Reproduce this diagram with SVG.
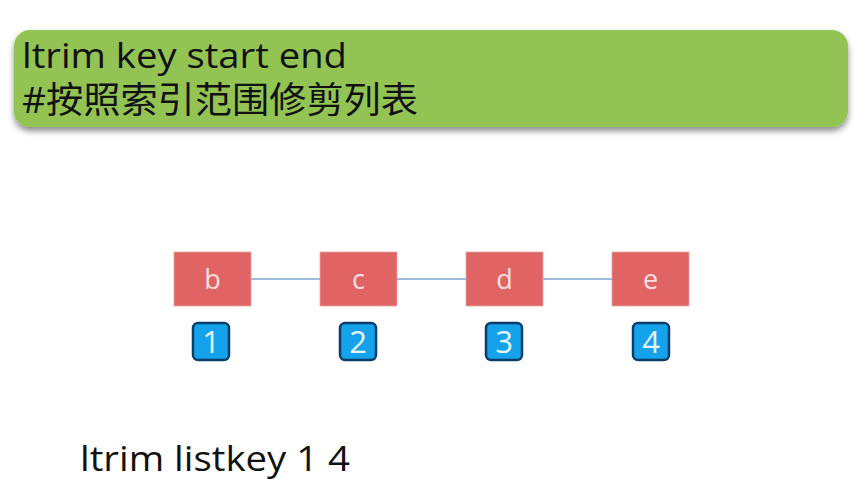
<svg xmlns="http://www.w3.org/2000/svg" width="866" height="482" viewBox="0 0 866 482">
<defs>
<filter id="sh" x="-5%" y="-10%" width="110%" height="130%">
<feDropShadow dx="0" dy="4" stdDeviation="3" flood-color="#000" flood-opacity="0.45"/>
</filter>
<style>
.t{font-family:"Open Sans","Noto Sans CJK SC",sans-serif;fill:#111}
.node rect.n{fill:#e06464;stroke:#e8a0a0;stroke-width:0.8}
.node text.n{font-family:"Open Sans",sans-serif;font-size:27px;fill:#fbe0e0;text-anchor:middle}
.idx rect{fill:#14a2ea;stroke:#0a3d6a;stroke-width:2.5}
.idx text{font-family:"Open Sans",sans-serif;font-size:31px;fill:#e6f6ff;text-anchor:middle}
.conn line{stroke:#7da4cf;stroke-width:1.6}
</style>
</defs>
<rect width="866" height="482" fill="#fff"/>
<g id="header">
<rect x="14" y="30" width="834" height="97" rx="16" fill="#92c353" filter="url(#sh)"/>
<text class="t" x="22" y="68" font-size="35" textLength="325" lengthAdjust="spacingAndGlyphs">ltrim key start end</text>
<text class="t" x="22" y="113" font-size="36" textLength="396" lengthAdjust="spacingAndGlyphs">#按照索引范围修剪列表</text>
</g>
<g id="connectors" class="conn">
<line x1="251" y1="279" x2="320" y2="279"/>
<line x1="397" y1="279" x2="466" y2="279"/>
<line x1="543" y1="279" x2="612" y2="279"/>
</g>
<g id="node-b" class="node"><rect class="n" x="174" y="252" width="77" height="54"/><text class="n" x="212.5" y="289">b</text></g>
<g id="node-c" class="node"><rect class="n" x="320" y="252" width="77" height="54"/><text class="n" x="358.5" y="289">c</text></g>
<g id="node-d" class="node"><rect class="n" x="466" y="252" width="77" height="54"/><text class="n" x="504.5" y="289">d</text></g>
<g id="node-e" class="node"><rect class="n" x="612" y="252" width="77" height="54"/><text class="n" x="650.5" y="289">e</text></g>
<g id="idx-1" class="idx"><rect x="193" y="323" width="36" height="37" rx="5"/><text x="211" y="353">1</text></g>
<g id="idx-2" class="idx"><rect x="340" y="323" width="36" height="37" rx="5"/><text x="358" y="353">2</text></g>
<g id="idx-3" class="idx"><rect x="486" y="323" width="36" height="37" rx="5"/><text x="504" y="353">3</text></g>
<g id="idx-4" class="idx"><rect x="633" y="323" width="36" height="37" rx="5"/><text x="651" y="353">4</text></g>
<text class="t" x="80" y="471" font-size="34" textLength="270" lengthAdjust="spacingAndGlyphs">ltrim listkey 1 4</text>
</svg>
